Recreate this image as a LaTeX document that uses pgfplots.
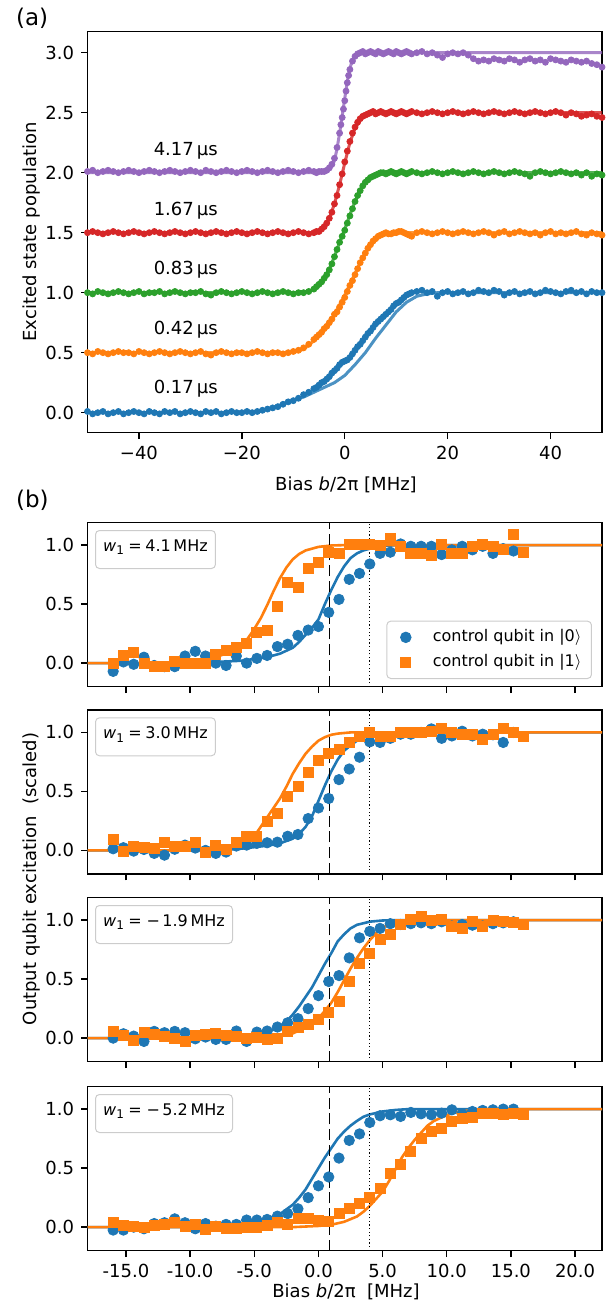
\documentclass[border=0pt]{standalone}
\usepackage{pgfplots}
\usepackage{pgfplotstable}
\pgfplotsset{compat=1.18}
\usepackage{fontspec}
\setmainfont{DejaVu Sans}
\definecolor{cb}{HTML}{1F77B4}
\definecolor{co}{HTML}{FF7F0E}
\definecolor{cg}{HTML}{2CA02C}
\definecolor{cr}{HTML}{D62728}
\definecolor{cp}{HTML}{9467BD}
\newcommand{\ts}{\fontsize{9}{10.8}\selectfont}
\newcommand{\ls}{\fontsize{8}{9.6}\selectfont}

\pgfplotstableread{
x b o g r p
-50 0.01 0.50 1.00 1.50 2.01
-49 -0.01 0.49 0.99 1.51 2.02
-48 0.00 0.51 1.01 1.50 2.00
-47 0.01 0.50 1.00 1.49 2.01
-46 -0.01 0.49 0.99 1.50 2.02
-45 0.00 0.50 1.00 1.51 2.01
-44 0.01 0.51 1.01 1.50 2.00
-43 -0.01 0.50 1.00 1.49 2.01
-42 0.00 0.50 0.99 1.50 2.02
-41 0.01 0.49 1.00 1.51 2.01
-40 0.00 0.51 1.01 1.50 2.00
-39 -0.01 0.50 0.99 1.49 2.01
-38 0.01 0.49 1.00 1.50 2.02
-37 0.00 0.50 1.00 1.51 2.01
-36 -0.01 0.51 1.01 1.50 2.00
-35 0.01 0.50 0.99 1.49 2.01
-34 0.00 0.49 1.00 1.50 2.02
-33 0.01 0.50 1.01 1.51 2.01
-32 -0.01 0.51 1.00 1.50 2.00
-31 0.00 0.50 0.99 1.49 2.01
-30 0.01 0.49 1.00 1.50 2.02
-29 0.00 0.50 1.00 1.51 2.01
-28 -0.01 0.51 1.01 1.50 2.00
-27 0.01 0.49 0.99 1.49 2.02
-26 0.00 0.48 0.98 1.50 2.01
-25 0.01 0.50 1.00 1.51 2.00
-24 -0.01 0.51 1.01 1.50 2.01
-23 0.00 0.50 1.00 1.49 2.02
-22 0.01 0.49 0.99 1.50 2.01
-21 0.00 0.50 1.00 1.51 2.00
-20 0.00 0.50 1.01 1.50 2.01
-19 0.01 0.49 1.00 1.49 2.02
-18 0.00 0.50 0.99 1.50 2.01
-17 0.01 0.51 1.00 1.51 2.00
-16 0.02 0.50 1.01 1.50 2.01
-15 0.03 0.49 1.00 1.49 2.02
-14 0.04 0.50 0.99 1.50 2.01
-13 0.05 0.50 1.00 1.51 2.00
-12 0.07 0.49 1.01 1.50 2.01
-11 0.09 0.50 1.00 1.49 2.02
-10 0.10 0.51 0.99 1.50 2.01
-9 0.12 0.52 1.00 1.51 2.00
-8 0.15 0.54 1.00 1.50 2.01
-7 0.17 0.57 1.01 1.49 2.02
-6 0.20 0.61 1.03 1.50 2.01
-5.5 0.21 0.63 1.05 1.51 2.00
-5 0.23 0.65 1.07 1.51 2.01
-4.5 0.25 0.67 1.09 1.53 2.01
-4 0.26 0.70 1.12 1.55 2.01
-3.5 0.28 0.72 1.15 1.58 2.02
-3 0.30 0.75 1.19 1.62 2.04
-2.5 0.33 0.78 1.24 1.67 2.07
-2 0.35 0.82 1.30 1.74 2.12
-1.5 0.37 0.84 1.36 1.81 2.21
-1 0.40 0.88 1.42 1.90 2.33
-0.75 nan nan nan nan 2.40
-0.5 0.42 0.92 1.47 1.99 2.46
-0.25 nan nan nan nan 2.53
0 0.43 0.96 1.52 2.09 2.60
0.25 nan nan nan nan 2.68
0.5 0.44 1.01 1.58 2.18 2.75
0.75 nan nan nan nan 2.81
1 0.46 1.06 1.64 2.26 2.86
1.5 0.49 1.10 1.70 2.33 2.93
2 0.52 1.15 1.76 2.38 2.97
2.5 0.55 1.20 1.81 2.42 2.99
3 0.57 1.25 1.85 2.45 3.00
3.5 0.60 1.29 1.89 2.47 3.01
4 0.63 1.33 1.92 2.48 2.99
4.5 0.66 1.37 1.94 2.49 3.00
5 0.68 1.40 1.96 2.50 3.01
5.5 0.71 1.43 1.97 2.51 3.00
6 0.74 1.45 1.98 2.49 2.99
6.5 0.76 1.47 1.99 2.50 3.01
7 0.78 1.48 2.00 2.51 3.00
7.5 0.80 1.49 2.00 2.50 2.99
8 0.82 1.50 1.99 2.49 3.00
8.5 0.84 1.49 2.00 2.50 3.01
9 0.86 1.49 2.01 2.51 3.00
9.5 0.89 1.50 2.00 2.50 2.99
10 0.91 1.50 1.99 2.49 3.01
10.5 0.92 1.51 2.00 2.50 3.00
11 0.94 1.51 2.01 2.51 2.99
11.5 0.96 1.50 2.00 2.50 3.00
12 0.98 1.49 1.99 2.49 3.01
12.5 0.99 1.48 2.00 2.50 3.00
13 1.00 1.47 2.01 2.51 2.99
14 1.01 1.50 2.00 2.50 3.00
15 1.02 1.51 1.99 2.49 3.01
16 1.00 1.50 2.00 2.50 2.99
17 1.01 1.49 2.01 2.51 3.00
18 0.97 1.50 2.00 2.50 2.98
19 1.00 1.51 1.99 2.49 2.96
20 1.01 1.50 2.00 2.50 2.99
21 0.99 1.49 2.01 2.51 3.00
22 1.00 1.50 2.00 2.50 2.99
23 1.01 1.51 1.99 2.49 3.00
24 0.99 1.50 2.00 2.50 2.98
25 1.00 1.49 2.01 2.51 2.95
26 1.02 1.50 2.00 2.50 2.93
27 1.01 1.51 1.99 2.49 2.94
28 1.00 1.50 2.00 2.50 2.93
29 1.02 1.48 2.01 2.51 2.95
30 1.01 1.50 2.00 2.50 2.94
31 0.98 1.51 1.99 2.49 2.93
32 1.00 1.49 2.00 2.50 2.95
33 1.01 1.50 2.01 2.51 2.94
34 0.99 1.51 2.00 2.50 2.92
35 1.00 1.50 1.99 2.49 2.94
36 1.01 1.49 1.97 2.50 2.95
37 0.99 1.50 2.00 2.51 2.93
38 1.00 1.48 2.01 2.50 2.94
39 1.02 1.50 2.00 2.49 2.92
40 1.01 1.51 1.99 2.50 2.95
41 1.00 1.49 2.00 2.51 2.94
42 0.99 1.50 2.01 2.50 2.93
43 1.01 1.49 2.00 2.48 2.92
44 1.02 1.50 1.99 2.50 2.94
45 1.00 1.51 2.00 2.49 2.93
46 1.01 1.49 1.98 2.47 2.92
47 0.99 1.48 2.00 2.48 2.93
48 1.01 1.50 1.97 2.49 2.91
49 1.00 1.49 1.99 2.47 2.90
50 1.00 1.48 1.98 2.46 2.88
}\tA

\pgfplotstableread{
x b1 o1 b2 o2 b3 o3 b4 o4
-16 -0.07 -0.005 0.014 0.093 0.0 0.057 -0.025 0.042
-15.2 0.01 0.065 0.023 -0.006 0.037 0.023 -0.025 0.014
-14.4 -0.01 0.09 -0.006 0.037 0.017 -0.02 0.0 0.008
-13.6 0.05 -0.005 0.008 0.023 -0.028 0.051 -0.014 -0.006
-12.8 -0.02 -0.025 -0.025 0.014 0.057 0.028 0.03 0.014
-12 -0.03 -0.025 -0.04 0.065 0.046 0.017 0.037 0.023
-11.2 -0.03 0.015 0.01 0.037 0.057 -0.006 0.07 0.042
-10.4 0.06 0.0 0.045 0.037 0.046 -0.028 0.037 0.008
-9.6 0.10 -0.005 0.02 0.065 -0.006 0.023 -0.014 0.023
-8.8 0.06 0.0 0.0 -0.02 0.009 0.028 0.03 -0.02
-8 0.0 0.07 -0.025 0.045 -0.011 0.037 0.008 0.003
-7.2 -0.02 0.11 -0.014 0.008 -0.011 0.023 0.023 -0.014
-6.4 0.06 0.135 0.037 0.065 0.06 0.017 0.023 -0.014
-5.6 0.0 0.165 0.045 0.12 -0.028 -0.006 0.06 -0.006
-4.8 0.04 0.26 0.06 0.12 0.051 0.009 0.06 -0.006
-4 0.065 0.28 0.065 0.25 0.06 -0.011 0.065 0.014
-3.2 0.14 0.48 0.07 0.31 0.094 0.0 0.093 0.037
-2.4 0.16 0.68 0.12 0.46 0.13 0.057 0.115 0.023
-1.6 0.235 0.645 0.135 0.54 0.165 0.094 0.155 0.07
-0.8 0.28 0.80 0.27 0.66 0.25 0.12 0.25 0.07
0 0.31 0.85 0.36 0.76 0.36 0.16 0.35 0.06
0.8 0.43 0.94 0.44 0.82 0.48 0.22 0.425 0.05
1.6 0.54 0.93 0.60 0.86 0.53 0.31 0.585 0.12
2.4 0.71 1.005 0.69 0.915 0.68 0.48 0.735 0.155
3.2 0.76 1.005 0.79 0.97 0.85 0.635 0.79 0.2
4 0.84 1.005 0.92 1.0 0.905 0.72 0.887 0.256
4.8 0.93 1.0 0.915 0.97 0.93 0.835 0.944 0.324
5.6 0.94 1.055 0.95 0.97 0.97 0.88 0.952 0.454
6.4 1.01 0.985 0.985 1.0 0.963 0.963 0.938 0.535
7.2 0.99 0.93 0.985 1.0 0.97 1.006 0.972 0.642
8 0.99 0.93 1.0 1.0 0.977 1.034 0.96 0.755
8.8 0.99 0.915 1.03 1.01 0.97 0.997 0.952 0.81
9.6 0.92 1.005 0.95 1.03 0.986 1.006 0.966 0.84
10.4 0.96 0.93 0.97 1.0 0.95 0.95 0.994 0.896
11.2 0.99 0.93 1.01 0.98 0.963 0.93 0.96 0.924
12 0.96 0.985 0.97 0.985 0.957 0.99 0.98 0.932
12.8 0.99 1.01 0.985 0.94 0.95 0.95 0.989 0.966
13.6 0.93 0.985 0.98 0.98 0.97 0.997 0.994 0.96
14.4 0.97 0.96 0.915 1.03 0.977 0.99 1.0 0.952
15.2 0.95 1.09 1.0 1.0 0.986 0.977 1.0 0.966
16 nan 0.94 nan 0.97 nan 0.963 nan 0.952
}\tB

\tikzset{
  wbox/.style={anchor=north west, draw=black!20, fill=white, rounded corners=2pt,
    line width=0.5pt, inner xsep=3.85pt, inner ysep=4pt, text height=6.5pt,
    text depth=4.5pt, font=\ls, xshift=3.75pt, yshift=-3.65pt},
}
\pgfplotsset{
  myax/.style={scale only axis, axis line style={line width=0.7pt},
    every tick/.style={black, line width=0.7pt}, tick align=outside,
    major tick length=3.2pt, tick pos=left,
    tick label style={font=\ts}},
  bsub/.style={myax, width=257.25pt, height=82pt, xmin=-18, xmax=22.1,
    ymin=-0.2, ymax=1.19, xtick={-15,-10,-5,0,5,10,15,20},
    ytick={0,0.5,1}, yticklabels={0.0,0.5,1.0}, xticklabels={}},
  dotsA/.style={only marks, mark=*, mark size=1.5pt, mark options={draw=#1, fill=#1}},
  fitA/.style={no marks, line width=1.5pt, color=#1, opacity=0.8},
  limg/.style={legend image code/.code={\path[draw=none, fill=none] (0pt,0pt) -- (18pt,0pt);
      \draw[##1, only marks] plot coordinates {(6.5pt,0pt)};}},
  bc/.style={only marks, mark=*, mark size=2.6pt, mark options={draw=cb, fill=cb}, limg},
  bs/.style={only marks, mark=square*, mark size=2.5pt, mark options={draw=co, fill=co}, limg},
  fb/.style={no marks, line width=1.3pt, color=#1},
  vd/.style={no marks, black, line width=0.8pt, dash pattern=on 5.5pt off 2.4pt},
  vt/.style={no marks, black, line width=0.6pt, dash pattern=on 0.6pt off 1.2pt},
}

\begin{document}
\begin{tikzpicture}
\path[use as bounding box] (0,0) rectangle (304.5pt,-652.5pt);

% ---------------- (a)
\begin{axis}[myax, at={(43.75pt,-15.85pt)}, anchor=north west,
  width=257.25pt, height=200.5pt, xmin=-50, xmax=50, ymin=-0.167, ymax=3.175,
  xtick={-40,-20,0,20,40}, xticklabels={−40,−20,0,20,40},
  ytick={0,0.5,1,1.5,2,2.5,3}, yticklabels={0.0,0.5,1.0,1.5,2.0,2.5,3.0}]
\addplot[dotsA=cb] table[x=x,y=b] {\tA};
\addplot[dotsA=co] table[x=x,y=o] {\tA};
\addplot[dotsA=cg] table[x=x,y=g] {\tA};
\addplot[dotsA=cr] table[x=x,y=r] {\tA};
\addplot[dotsA=cp] table[x=x,y=p] {\tA};
\addplot[fitA=cb] coordinates {(-50,0)(-20,0.0)(-17,0.01)(-14,0.04)(-11,0.09)(-8,0.13)(-5,0.19)(-2,0.25)(0,0.31)(2,0.40)(4,0.50)(6,0.62)(8,0.73)(10,0.84)(12,0.92)(14,0.97)(16,0.99)(18,1.0)(50,1.0)};
\addplot[fitA=co] coordinates {(-50,0.5)(-11,0.5)(-9,0.51)(-8,0.53)(-7,0.56)(-6,0.6)(-5,0.64)(-4,0.69)(-3,0.75)(-2,0.82)(-1,0.9)(0,0.98)(1,1.07)(2,1.16)(3,1.25)(4,1.33)(5,1.4)(6,1.45)(7,1.48)(8,1.495)(9,1.5)(50,1.5)};
\addplot[fitA=cg] coordinates {(-50,1.0)(-8,1.0)(-7,1.01)(-6,1.03)(-5,1.07)(-4,1.12)(-3,1.2)(-2,1.3)(-1,1.42)(0,1.53)(1,1.65)(2,1.76)(3,1.85)(4,1.92)(5,1.96)(6,1.985)(7,1.997)(8,2.0)(50,2.0)};
\addplot[fitA=cr] coordinates {(-50,1.5)(-6,1.5)(-5,1.51)(-4,1.55)(-3,1.62)(-2,1.74)(-1,1.9)(0,2.08)(1,2.25)(2,2.37)(3,2.44)(4,2.48)(5,2.5)(50,2.5)};
\addplot[fitA=cp] coordinates {(-50,2.0)(-4.5,2.0)(-3.5,2.01)(-2.5,2.05)(-2,2.1)(-1.5,2.2)(-1,2.33)(-0.5,2.47)(0,2.62)(0.5,2.76)(1,2.87)(1.5,2.94)(2,2.98)(2.5,2.995)(3,3.0)(50,3.0)};
\node[anchor=base west, inner sep=0, font=\ts] at (axis cs:-37.2,2.14) {4.17\,μs};
\node[anchor=base west, inner sep=0, font=\ts] at (axis cs:-37.2,1.645) {1.67\,μs};
\node[anchor=base west, inner sep=0, font=\ts] at (axis cs:-37.2,1.15) {0.83\,μs};
\node[anchor=base west, inner sep=0, font=\ts] at (axis cs:-37.2,0.655) {0.42\,μs};
\node[anchor=base west, inner sep=0, font=\ts] at (axis cs:-37.2,0.16) {0.17\,μs};
\end{axis}

% ---------------- (b1)
\begin{axis}[bsub, at={(43.75pt,-261.35pt)}, anchor=north west,
  legend style={at={(0.9805,0.047)}, anchor=south east,
    draw=black!20, line width=0.5pt, rounded corners=2pt, fill=white,
    font=\ls, inner xsep=3pt, inner ysep=2.8pt, row sep=1.85pt,
    nodes={inner xsep=2pt, inner ysep=1.5pt}},
  legend cell align=left]
\addplot[bc] table[x=x,y=b1] {\tB};
\addlegendentry{control qubit in |0$\rangle$}
\addplot[bs] table[x=x,y=o1] {\tB};
\addlegendentry{control qubit in |1$\rangle$}
\addplot[fb=cb, forget plot] coordinates {(-18,0)(-10,0.0)(-8,0.01)(-6,0.02)(-5,0.035)(-4,0.05)(-3,0.08)(-2,0.13)(-1.5,0.18)(-1,0.24)(-0.5,0.30)(0,0.37)(0.5,0.5)(1,0.62)(1.5,0.73)(2,0.82)(2.5,0.89)(3,0.93)(3.5,0.955)(4,0.97)(4.5,0.983)(5,0.992)(6,0.999)(7,1.0)(22.1,1.0)};
\addplot[fb=co, forget plot] coordinates {(-18,0)(-12,0.0)(-10,0.015)(-9,0.03)(-8,0.05)(-7,0.09)(-6,0.15)(-5.5,0.21)(-5,0.29)(-4.5,0.38)(-4,0.49)(-3.5,0.61)(-3,0.72)(-2.5,0.81)(-2,0.88)(-1.5,0.925)(-1,0.955)(0,0.985)(1,0.997)(2,1.0)(22.1,1.0)};
\addplot[vd, forget plot] coordinates {(0.85,-0.2)(0.85,1.19)};
\addplot[vt, forget plot] coordinates {(4.0,-0.2)(4.0,1.19)};
\node[wbox] at (rel axis cs:0,1) {\textit{w}\textsubscript{1}\hspace{0.22em}=\hspace{0.22em}4.1\,MHz};
\end{axis}

% ---------------- (b2)
\begin{axis}[bsub, at={(43.75pt,-355pt)}, anchor=north west]
\addplot[bc] table[x=x,y=b2] {\tB};
\addplot[bs] table[x=x,y=o2] {\tB};
\addplot[fb=cb] coordinates {(-18,0)(-8,0.0)(-6,0.015)(-4,0.04)(-3,0.06)(-2,0.1)(-1.5,0.14)(-1,0.2)(-0.5,0.29)(0,0.42)(0.5,0.55)(1,0.67)(1.5,0.77)(2,0.845)(2.5,0.89)(3,0.93)(3.5,0.96)(4,0.975)(5,0.993)(6,1.0)(22.1,1.0)};
\addplot[fb=co] coordinates {(-18,0)(-10,0.0)(-8,0.01)(-7,0.02)(-6,0.04)(-5,0.12)(-4.5,0.2)(-4,0.28)(-3.5,0.36)(-3,0.44)(-2.5,0.54)(-2,0.65)(-1.5,0.74)(-1,0.82)(-0.5,0.88)(0,0.93)(0.5,0.96)(1,0.98)(1.5,0.99)(2.5,1.0)(22.1,1.0)};
\addplot[vd] coordinates {(0.85,-0.2)(0.85,1.19)};
\addplot[vt] coordinates {(4.0,-0.2)(4.0,1.19)};
\node[wbox] at (rel axis cs:0,1) {\textit{w}\textsubscript{1}\hspace{0.22em}=\hspace{0.22em}3.0\,MHz};
\end{axis}

% ---------------- (b3)
\begin{axis}[bsub, at={(43.75pt,-448.85pt)}, anchor=north west]
\addplot[bc] table[x=x,y=b3] {\tB};
\addplot[bs] table[x=x,y=o3] {\tB};
\addplot[fb=cb] coordinates {(-18,0)(-9,0.0)(-7,0.01)(-5,0.03)(-4,0.05)(-3,0.1)(-2.5,0.14)(-2,0.2)(-1.5,0.27)(-1,0.35)(-0.5,0.43)(0,0.53)(0.5,0.63)(1,0.72)(1.5,0.82)(2,0.88)(2.5,0.93)(3,0.96)(4,0.987)(5,0.997)(6,1.0)(22.1,1.0)};
\addplot[fb=co] coordinates {(-18,0)(-6,0.0)(-4,0.01)(-3,0.02)(-2,0.04)(-1,0.09)(0,0.17)(0.5,0.23)(1,0.3)(1.5,0.39)(2,0.49)(2.5,0.59)(3,0.68)(3.5,0.76)(4,0.83)(4.5,0.89)(5,0.935)(5.5,0.965)(6,0.985)(7,0.998)(8,1.0)(22.1,1.0)};
\addplot[vd] coordinates {(0.85,-0.2)(0.85,1.19)};
\addplot[vt] coordinates {(4.0,-0.2)(4.0,1.19)};
\node[wbox] at (rel axis cs:0,1) {\textit{w}\textsubscript{1}\hspace{0.22em}=\hspace{0.3em}−\hspace{0.15em}1.9\,MHz};
\end{axis}

% ---------------- (b4)
\begin{axis}[bsub, at={(43.75pt,-543.35pt)}, anchor=north west,
  xticklabels={-15.0,-10.0,-5.0,0.0,5.0,10.0,15.0,20.0}]
\addplot[bc] table[x=x,y=b4] {\tB};
\addplot[bs] table[x=x,y=o4] {\tB};
\addplot[fb=cb] coordinates {(-18,0)(-10,0.0)(-8,0.01)(-6,0.03)(-5,0.045)(-4,0.07)(-3,0.11)(-2,0.19)(-1.5,0.25)(-1,0.32)(-0.5,0.41)(0,0.5)(0.5,0.59)(1,0.67)(1.5,0.75)(2,0.81)(2.5,0.86)(3,0.9)(3.5,0.935)(4,0.955)(5,0.98)(6,0.993)(7,1.0)(22.1,1.0)};
\addplot[fb=co] coordinates {(-18,0)(-2,0.0)(0,0.01)(1,0.02)(2,0.045)(3,0.09)(3.5,0.13)(4,0.18)(4.5,0.24)(5,0.3)(5.5,0.39)(6,0.49)(6.5,0.59)(7,0.67)(7.5,0.74)(8,0.8)(8.5,0.86)(9,0.9)(10,0.95)(11,0.98)(12,0.993)(13,1.0)(22.1,1.0)};
\addplot[vd] coordinates {(0.85,-0.2)(0.85,1.19)};
\addplot[vt] coordinates {(4.0,-0.2)(4.0,1.19)};
\node[wbox] at (rel axis cs:0,1) {\textit{w}\textsubscript{1}\hspace{0.22em}=\hspace{0.3em}−\hspace{0.15em}5.2\,MHz};
\end{axis}

% ---------------- labels
\node[anchor=base west, inner sep=0, font=\fontsize{11.5}{13}\selectfont] at (7.85pt,-13pt) {(a)};
\node[anchor=base west, inner sep=0, font=\fontsize{11.5}{13}\selectfont] at (7.85pt,-253.5pt) {(b)};
\node[anchor=base, inner sep=0, font=\ts] at (173pt,-245pt) {Bias \textit{b}/2π [MHz]};
\node[rotate=90, anchor=base, inner sep=0, font=\ts] at (18.3pt,-116pt) {Excited state population};
\node[rotate=90, anchor=base, inner sep=0, font=\ts] at (18.3pt,-439.5pt) {Output qubit excitation\ \ (scaled)};
\node[anchor=base, inner sep=0, font=\ts] at (173pt,-648.5pt) {Bias \textit{b}/2π\ \ [MHz]};
\end{tikzpicture}
\end{document}
